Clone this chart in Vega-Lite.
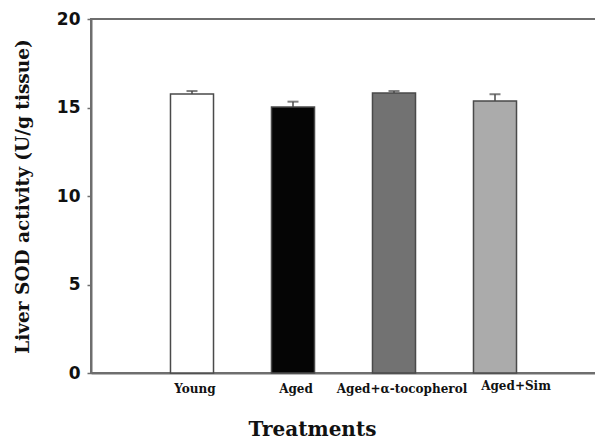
{
  "$schema": "https://vega.github.io/schema/vega-lite/v6.json",
  "autosize": "none",
  "padding": {"left": 91, "top": 19, "right": 0, "bottom": 67},
  "width": 505,
  "height": 354,
  "background": "white",
  "config": {
    "view": {"stroke": "#6e6e6e", "strokeWidth": 2},
    "axis": {"grid": false, "domainColor": "#6e6e6e", "domainWidth": 2, "tickColor": "#6e6e6e"}
  },
  "data": {
    "values": [
      {"group": "Young", "sod": 15.76, "upper": 15.93, "fill": "white"},
      {"group": "Aged", "sod": 15.03, "upper": 15.33, "fill": "black"},
      {"group": "Aged+α-tocopherol", "sod": 15.82, "upper": 15.93, "fill": "checks"},
      {"group": "Aged+Sim", "sod": 15.37, "upper": 15.75, "fill": "gray"}
    ]
  },
  "encoding": {
    "x": {
      "field": "group",
      "type": "nominal",
      "sort": null,
      "scale": {"paddingInner": 0.574, "paddingOuter": 0.787},
      "axis": {
        "title": "Treatments",
        "titleFont": "DejaVu Serif",
        "titleFontSize": 20,
        "titleFontWeight": "bold",
        "titleColor": "#111",
        "titleX": 221,
        "titleY": 46,
        "titleAlign": "center",
        "titleBaseline": "top",
        "labelAngle": 0,
        "labelFont": "DejaVu Serif",
        "labelFontSize": 12,
        "labelFontWeight": "bold",
        "labelColor": "#111",
        "labelOverlap": false,
        "labelPadding": {"condition": {"test": "datum.value === 'Aged+Sim'", "value": 7}, "value": 10},
        "labelOffset": {
          "condition": [
            {"test": "datum.value === 'Aged+Sim'", "value": 21},
            {"test": "datum.value === 'Aged+α-tocopherol'", "value": 8}
          ],
          "value": 3
        },
        "ticks": false
      }
    }
  },
  "layer": [
    {
      "mark": {"type": "bar", "stroke": "#4a4a4a", "strokeWidth": 1.5},
      "encoding": {
        "y": {
          "field": "sod",
          "type": "quantitative",
          "scale": {"domain": [0, 20]},
          "axis": {
            "title": "Liver SOD activity (U/g tissue)",
            "titleFont": "DejaVu Serif",
            "titleFontSize": 18.5,
            "titleFontWeight": "bold",
            "titleColor": "#111",
            "titleAngle": -90,
            "titleX": -63,
            "titleY": 177,
            "titleAlign": "center",
            "titleBaseline": "alphabetic",
            "values": [0, 5, 10, 15, 20],
            "labelFont": "DejaVu Sans",
            "labelFontSize": 17,
            "labelFontWeight": "bold",
            "labelColor": "#111",
            "labelPadding": 7,
            "tickSize": 4,
            "tickWidth": 1.5
          }
        },
        "fill": {
          "field": "fill",
          "type": "nominal",
          "scale": {
            "domain": ["white", "black", "checks", "gray"],
            "range": ["#ffffff", "#050505", "#727272", "#ababab"]
          },
          "legend": null
        }
      }
    },
    {
      "mark": {"type": "rule", "color": "#4a4a4a", "strokeWidth": 1.5},
      "encoding": {
        "y": {"field": "sod", "type": "quantitative"},
        "y2": {"field": "upper"}
      }
    },
    {
      "mark": {"type": "tick", "color": "#4a4a4a", "size": 11, "thickness": 2},
      "encoding": {
        "y": {"field": "upper", "type": "quantitative"}
      }
    }
  ]
}
